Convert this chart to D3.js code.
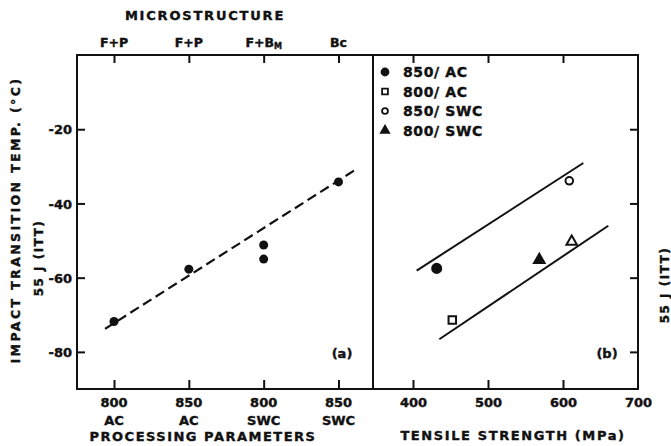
<!DOCTYPE html>
<html>
<head>
<meta charset="utf-8">
<script src="https://cdn.jsdelivr.net/npm/d3@7"></script>
<style>
  body { margin: 0; background: #fff; }
  svg { display: block; }
  text { font-family: "DejaVu Sans", sans-serif; font-weight: bold; fill: #111; stroke: #111; stroke-width: 0.4; }
  .axis path.domain { display: none; }
  .axis line { stroke: #111; stroke-width: 2; }
</style>
</head>
<body>
<div id="chart"></div>
<script>
const width = 671;
const height = 446;

// panel (a): ITT vs processing parameters
const procTemps = ["800", "850", "800", "850"];
const procCooling = ["AC", "AC", "SWC", "SWC"];
const microLabels = ["F+P", "F+P", "F+B|M", "Bc"];
const procIndex = [1, 2, 3, 3, 4];
const procITT = [-71.8, -57.7, -51.2, -55.0, -34.2];
const trendA = [[0.88, -73.8], [4.22, -31.0]];

// panel (b): ITT vs tensile strength
const seriesNames = ["850/ AC", "800/ AC", "850/ SWC", "800/ SWC"];
const tsStrength = [431.6, 452.4, 608.4, 568.4, 611.6];
const tsITT = [-57.5, -71.4, -33.9, -55.2, -50.3];
const tsMarker = ["850/ AC", "800/ AC", "850/ SWC", "800/ SWC", "800/ SWC open"];
const upperBand = [[404.9, -58.1], [627.1, -29.1]];
const lowerBand = [[435.1, -76.6], [660.4, -46.0]];

const yTicks = [-20, -40, -60, -80];
const tsTicks = [400, 500, 600, 700];

const plotTop = 55, plotBottom = 389;
const leftA = 77, rightA = 373, rightB = 638;

const svg = d3.select("#chart").append("svg")
  .attr("width", width)
  .attr("height", height);

const y = d3.scaleLinear().domain([-90, 0]).range([plotBottom, plotTop]);
const xA = d3.scaleLinear().domain([1, 4]).range([114, 338.5]);
const xB = d3.scaleLinear().domain([400, 700]).range([413, 638]);

const markerStyle = {
  "850/ AC": { type: d3.symbolCircle, size: 64, fill: true },
  "800/ AC": { type: d3.symbolSquare, size: 56, fill: false },
  "850/ SWC": { type: d3.symbolCircle, size: 45, fill: false },
  "800/ SWC": { type: d3.symbolTriangle, size: 48, fill: true },
  "800/ SWC open": { type: d3.symbolTriangle, size: 48, fill: false }
};

// frames
svg.append("rect")
  .attr("x", leftA).attr("y", plotTop)
  .attr("width", rightB - leftA).attr("height", plotBottom - plotTop)
  .attr("fill", "none").attr("stroke", "#111").attr("stroke-width", 2);
svg.append("line")
  .attr("x1", rightA).attr("x2", rightA).attr("y1", plotTop).attr("y2", plotBottom)
  .attr("stroke", "#111").attr("stroke-width", 2);

// ---- panel (a) axes
const yAxisA = svg.append("g").attr("class", "axis")
  .attr("transform", `translate(${leftA},0)`)
  .call(d3.axisLeft(y).tickValues(yTicks).tickSize(-8).tickPadding(5).tickFormat((d) => d));
yAxisA.selectAll("text").attr("font-size", 13).attr("dy", "0.35em");

svg.append("g").attr("class", "axis")
  .attr("transform", `translate(0,${plotTop})`)
  .call(d3.axisTop(xA).tickValues([1, 2, 3, 4]).tickSize(-8).tickFormat(""));

svg.append("g").attr("class", "axis")
  .attr("transform", `translate(0,${plotBottom})`)
  .call(d3.axisBottom(xA).tickValues([1, 2, 3, 4]).tickSize(-9).tickFormat(""));

microLabels.forEach((lab, i) => {
  const parts = lab.split("|");
  const t = svg.append("text")
    .attr("x", xA(i + 1))
    .attr("y", 47)
    .attr("text-anchor", "middle")
    .attr("font-size", 12.5);
  t.append("tspan").text(parts[0]);
  if (parts[1]) {
    t.append("tspan").attr("font-size", 8).attr("dy", 2).text(parts[1]);
  }
});

procTemps.forEach((tmp, i) => {
  svg.append("text")
    .attr("x", xA(i + 1)).attr("y", 407)
    .attr("text-anchor", "middle").attr("font-size", 13)
    .text(tmp);
  svg.append("text")
    .attr("x", xA(i + 1)).attr("y", 425)
    .attr("text-anchor", "middle").attr("font-size", 13)
    .text(procCooling[i]);
});

svg.append("text")
  .attr("x", 205).attr("y", 20)
  .attr("text-anchor", "middle").attr("font-size", 13)
  .attr("letter-spacing", 1.8)
  .text("MICROSTRUCTURE");

svg.append("text")
  .attr("x", 203).attr("y", 441)
  .attr("text-anchor", "middle").attr("font-size", 13)
  .attr("letter-spacing", 1.5)
  .text("PROCESSING  PARAMETERS");

svg.append("text")
  .attr("transform", "translate(20,220) rotate(-90)")
  .attr("text-anchor", "middle").attr("font-size", 12.5)
  .attr("letter-spacing", 2.4)
  .text("IMPACT  TRANSITION  TEMP.  (°C)");

svg.append("text")
  .attr("transform", "translate(43,258) rotate(-90)")
  .attr("text-anchor", "middle").attr("font-size", 12)
  .attr("letter-spacing", 1.5)
  .text("55 J (ITT)");

svg.append("path")
  .attr("d", d3.line().x((d) => xA(d[0])).y((d) => y(d[1]))(trendA))
  .attr("fill", "none").attr("stroke", "#111").attr("stroke-width", 2.2)
  .attr("stroke-dasharray", "10,5");

svg.selectAll("circle.pa")
  .data(procIndex)
  .enter()
  .append("circle")
  .attr("class", "pa")
  .attr("cx", (d) => xA(d))
  .attr("cy", (d, i) => y(procITT[i]))
  .attr("r", 4.5)
  .attr("fill", "#111");

svg.append("text")
  .attr("x", 342).attr("y", 358)
  .attr("text-anchor", "middle").attr("font-size", 13)
  .text("(a)");

// ---- panel (b) axes
svg.append("g").attr("class", "axis")
  .attr("transform", `translate(0,${plotTop})`)
  .call(d3.axisTop(xB).tickValues(tsTicks.slice(0, 3)).tickSize(-8).tickFormat(""));

const bottomB = svg.append("g").attr("class", "axis")
  .attr("transform", `translate(0,${plotBottom})`)
  .call(d3.axisBottom(xB).tickValues(tsTicks).tickSize(-9).tickPadding(4).tickFormat((d) => d));
bottomB.selectAll("text").attr("font-size", 13).attr("dy", "1.1em");
bottomB.selectAll("line").filter((d) => d === 700).remove();

svg.append("g").attr("class", "axis")
  .attr("transform", `translate(${rightB},0)`)
  .call(d3.axisRight(y).tickValues(yTicks).tickSize(-8).tickFormat(""));

svg.append("text")
  .attr("x", 513).attr("y", 440)
  .attr("text-anchor", "middle").attr("font-size", 13)
  .attr("letter-spacing", 1.6)
  .text("TENSILE  STRENGTH (MPa)");

svg.append("text")
  .attr("transform", "translate(669,285) rotate(-90)")
  .attr("text-anchor", "middle").attr("font-size", 12)
  .attr("letter-spacing", 1.5)
  .text("55 J (ITT)");

[upperBand, lowerBand].forEach((band) => {
  svg.append("path")
    .attr("d", d3.line().x((d) => xB(d[0])).y((d) => y(d[1]))(band))
    .attr("fill", "none").attr("stroke", "#111").attr("stroke-width", 2);
});

svg.selectAll("path.pb")
  .data(tsStrength)
  .enter()
  .append("path")
  .attr("class", "pb")
  .attr("transform", (d, i) => `translate(${xB(d)},${y(tsITT[i])})`)
  .attr("d", (d, i) => d3.symbol().type(markerStyle[tsMarker[i]].type).size(markerStyle[tsMarker[i]].size)())
  .attr("fill", (d, i) => (markerStyle[tsMarker[i]].fill ? "#111" : "#fff"))
  .attr("stroke", "#111")
  .attr("stroke-width", 2);

// legend
const legend = svg.append("g").attr("transform", "translate(385,72)");
seriesNames.forEach((name, i) => {
  const st = markerStyle[name];
  legend.append("path")
    .attr("transform", `translate(0,${i * 19.5})`)
    .attr("d", d3.symbol().type(st.type).size(st.size * 0.6)())
    .attr("fill", st.fill ? "#111" : "#fff")
    .attr("stroke", "#111").attr("stroke-width", 1.8);
  legend.append("text")
    .attr("x", 18).attr("y", i * 19.5).attr("dy", "0.36em")
    .attr("font-size", 14)
    .attr("letter-spacing", 0.6)
    .text(name);
});

svg.append("text")
  .attr("x", 607).attr("y", 358)
  .attr("text-anchor", "middle").attr("font-size", 13)
  .text("(b)");
</script>
</body>
</html>
